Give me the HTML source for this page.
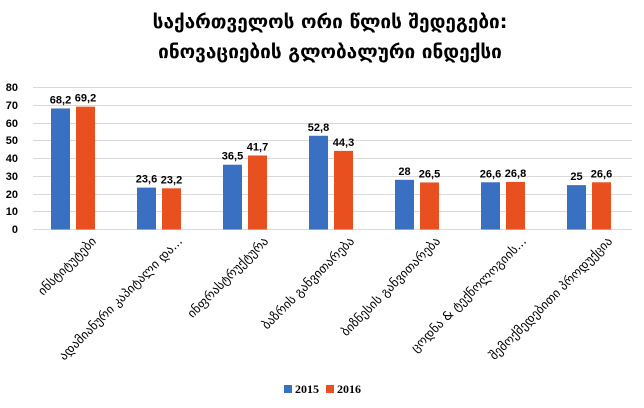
<!DOCTYPE html>
<html><head><meta charset="utf-8"><style>
body{margin:0;background:#fff}
svg text{font-family:"DejaVu Sans","Liberation Sans",sans-serif}
</style></head><body>
<svg width="644" height="403" xmlns="http://www.w3.org/2000/svg">
<rect width="644" height="403" fill="#fff"/>
<text x="330" y="28" text-anchor="middle" font-size="19" font-weight="bold" fill="#000">საქართველოს ორი წლის შედეგები:</text>
<text x="330" y="58" text-anchor="middle" font-size="19" font-weight="bold" fill="#000">ინოვაციების გლობალური ინდექსი</text>
<g stroke="#d9d9d9" stroke-width="1">
<line x1="33" x2="632" y1="87.5" y2="87.5"/>
<line x1="33" x2="632" y1="105.5" y2="105.5"/>
<line x1="33" x2="632" y1="123.5" y2="123.5"/>
<line x1="33" x2="632" y1="140.5" y2="140.5"/>
<line x1="33" x2="632" y1="158.5" y2="158.5"/>
<line x1="33" x2="632" y1="176.5" y2="176.5"/>
<line x1="33" x2="632" y1="194.5" y2="194.5"/>
<line x1="33" x2="632" y1="211.5" y2="211.5"/>
<line x1="33" x2="632" y1="229.5" y2="229.5"/>
</g>
<g font-size="11" font-weight="bold" fill="#000" text-anchor="end">
<text x="18" y="91" style="font-family:'Liberation Sans'">80</text>
<text x="18" y="109" style="font-family:'Liberation Sans'">70</text>
<text x="18" y="127" style="font-family:'Liberation Sans'">60</text>
<text x="18" y="144" style="font-family:'Liberation Sans'">50</text>
<text x="18" y="162" style="font-family:'Liberation Sans'">40</text>
<text x="18" y="180" style="font-family:'Liberation Sans'">30</text>
<text x="18" y="198" style="font-family:'Liberation Sans'">20</text>
<text x="18" y="215" style="font-family:'Liberation Sans'">10</text>
<text x="18" y="233" style="font-family:'Liberation Sans'">0</text>
</g>
<script>
const d=[[68.2,69.2],[23.6,23.2],[36.5,41.7],[52.8,44.3],[28,26.5],[26.6,26.8],[25,26.6]];
const labs=["ინსტიტუტები","ადამიანური კაპიტალი და...","ინფრასტრუქტურა","ბაზრის განვითარება","ბიზნესის განვითარება","ცოდნა & ტექნოლოგიის...","შემოქმედებითი პროდუქცია"];
const ns="http://www.w3.org/2000/svg";const s=document.querySelector('svg');
function el(t,a,txt){const e=document.createElementNS(ns,t);for(const k in a)e.setAttribute(k,a[k]);if(txt!==undefined)e.textContent=txt;s.appendChild(e);return e;}
const y0=229.5,sc=1.775;
d.forEach((v,i)=>{const c=73+i*86;
 const cols=["#3a70c2","#e8501f"];
 v.forEach((val,j)=>{const x=j?c+3:c-22;const h=val*sc;
  el('rect',{x:x,y:y0-h,width:19,height:h,fill:cols[j]});
  el('text',{x:x+9.5,y:y0-h-5,'font-size':11,'font-weight':'bold','text-anchor':'middle',style:"font-family:'Liberation Sans'"},String(val).replace('.',','));});
 el('text',{x:c+24,y:242,'font-size':12.5,'text-anchor':'end',transform:`rotate(-45 ${c+24} 242)`,fill:'#000'},labs[i]);
});
el('rect',{x:284,y:385,width:8,height:8,fill:"#3a70c2"});
el('text',{x:295,y:393,'font-size':12,'font-weight':'bold',style:"font-family:'Liberation Serif'"},"2015");
el('rect',{x:326,y:385,width:8,height:8,fill:"#e8501f"});
el('text',{x:337,y:393,'font-size':12,'font-weight':'bold',style:"font-family:'Liberation Serif'"},"2016");
</script>
</svg>
</body></html>
